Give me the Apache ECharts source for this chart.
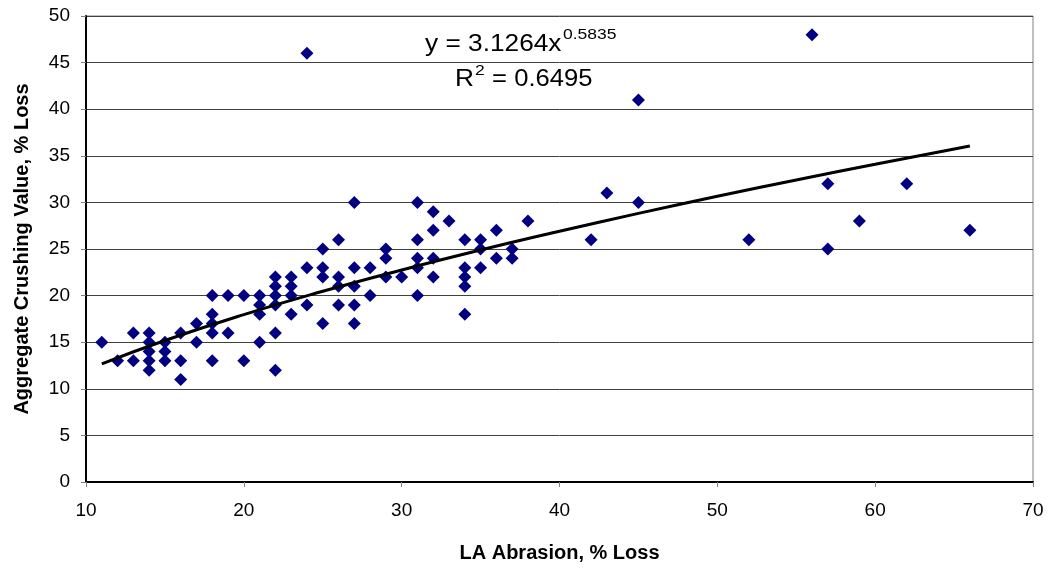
<!DOCTYPE html>
<html>
<head>
<meta charset="utf-8">
<script src="https://cdn.jsdelivr.net/npm/echarts@6/dist/echarts.min.js"></script>
<style>html,body{margin:0;padding:0;background:#fff}#c{width:1048px;height:569px}</style>
</head>
<body>
<div id="c"></div>
<script>
// LA Abrasion (% loss) values
const laAbrasion = [
  11, 12, 13, 13, 14, 14, 14, 14, 14, 15, 15, 15, 16, 16, 16, 17, 17,
  18, 18, 18, 18, 18, 19, 19, 20, 20, 21, 21, 21, 21,
  22, 22, 22, 22, 22, 22, 23, 23, 23, 23, 24, 24, 24,
  25, 25, 25, 25, 26, 26, 26, 26, 27, 27, 27, 27, 27, 28, 28,
  29, 29, 29, 30, 31, 31, 31, 31, 31, 32, 32, 32, 32, 33,
  34, 34, 34, 34, 34, 35, 35, 35, 36, 36, 37, 37, 38,
  42, 43, 45, 45, 52, 56, 57, 57, 59, 62, 66
];
// Aggregate Crushing Value (% loss) values
const crushingValue = [
  15, 13, 16, 13, 16, 15, 14, 13, 12, 15, 14, 13, 16, 13, 11, 17, 15,
  20, 18, 17, 16, 13, 20, 16, 20, 13, 20, 19, 18, 15,
  22, 21, 20, 19, 16, 12, 22, 21, 20, 18, 46, 23, 19,
  25, 23, 22, 17, 26, 22, 21, 19, 30, 23, 21, 19, 17, 23, 20,
  25, 24, 22, 22, 30, 26, 24, 23, 20, 29, 27, 24, 22, 28,
  26, 23, 22, 21, 18, 26, 25, 23, 27, 24, 25, 24, 28,
  26, 31, 41, 30, 26, 48, 32, 25, 28, 32, 27
];
// Power trendline y = 3.1264x^0.5835 (values at selected x)
const trendX = [11, 15, 20, 25, 30, 35, 40, 45, 50, 55, 60, 66];
const trendY = [12.67, 15.18, 17.96, 20.46, 22.75, 24.89, 26.90, 28.82, 30.65, 32.40, 34.09, 36.05];

const xTicks = { min: 10, max: 70, interval: 10 };
const yTicks = { min: 0, max: 50, interval: 5 };
const xTitle = 'LA Abrasion, % Loss';
const yTitle = 'Aggregate Crushing Value, % Loss';
const eqMain = 'y = 3.1264x';
const eqExp = '0.5835';
const r2Main = 'R';
const r2Exp = '2';
const r2Val = ' = 0.6495';

const FONT = '"Liberation Sans", Arial, sans-serif';
const chart = echarts.init(document.getElementById('c'), null, { renderer: 'canvas' });

const points = laAbrasion.map((x, i) => [x, crushingValue[i]]);
const trend = trendX.map((x, i) => [x, trendY[i]]);

chart.setOption({
  animation: false,
  backgroundColor: '#ffffff',
  grid: { left: 86, right: 15, top: 16, bottom: 87, show: true, borderColor: '#808080', borderWidth: 1 },
  xAxis: {
    type: 'value', min: xTicks.min, max: xTicks.max, interval: xTicks.interval,
    name: xTitle, nameLocation: 'middle', nameGap: 61,
    nameTextStyle: { fontFamily: FONT, fontSize: 20, fontWeight: 'bold', color: '#000' },
    axisLine: { onZero: false, lineStyle: { color: '#000', width: 2 } },
    axisTick: { show: true, length: 5, lineStyle: { color: '#808080' } },
    axisLabel: { fontFamily: FONT, fontSize: 19, color: '#000', margin: 19 },
    splitLine: { show: false }
  },
  yAxis: {
    type: 'value', min: yTicks.min, max: yTicks.max, interval: yTicks.interval,
    name: yTitle, nameLocation: 'middle', nameGap: 54,
    nameTextStyle: { fontFamily: FONT, fontSize: 20, fontWeight: 'bold', color: '#000' },
    axisLine: { onZero: false, lineStyle: { color: '#000', width: 2 } },
    axisTick: { show: true, length: 5, lineStyle: { color: '#808080' } },
    axisLabel: { fontFamily: FONT, fontSize: 19, color: '#000', margin: 16 },
    splitLine: { show: true, lineStyle: { color: '#404040', width: 1 } }
  },
  series: [
    {
      type: 'scatter', data: points, symbol: 'diamond', symbolSize: 13,
      itemStyle: { color: '#000080', opacity: 1 }, z: 2
    },
    {
      type: 'line', data: trend, smooth: true, showSymbol: false, symbol: 'none',
      lineStyle: { color: '#000', width: 3 }, z: 3
    }
  ],
  graphic: [
    { type: 'text', x: 425, y: 45, scaleX: 1.25, scaleY: 1.1, style: { text: eqMain, x: 0, y: 0, fontFamily: FONT, fontSize: 21, fill: '#000', textAlign: 'left', textVerticalAlign: 'middle' } },
    { type: 'text', x: 563, y: 35, scaleX: 1.25, style: { text: eqExp, x: 0, y: 0, fontFamily: FONT, fontSize: 14, fill: '#000', textAlign: 'left', textVerticalAlign: 'middle' } },
    { type: 'text', x: 455, y: 80, scaleX: 1.25, scaleY: 1.1, style: { text: r2Main, x: 0, y: 0, fontFamily: FONT, fontSize: 21, fill: '#000', textAlign: 'left', textVerticalAlign: 'middle' } },
    { type: 'text', x: 475, y: 71, scaleX: 1.25, style: { text: r2Exp, x: 0, y: 0, fontFamily: FONT, fontSize: 14, fill: '#000', textAlign: 'left', textVerticalAlign: 'middle' } },
    { type: 'text', x: 485, y: 80, scaleX: 1.22, scaleY: 1.1, style: { text: r2Val, x: 0, y: 0, fontFamily: FONT, fontSize: 21, fill: '#000', textAlign: 'left', textVerticalAlign: 'middle' } }
  ]
});
</script>
</body>
</html>
